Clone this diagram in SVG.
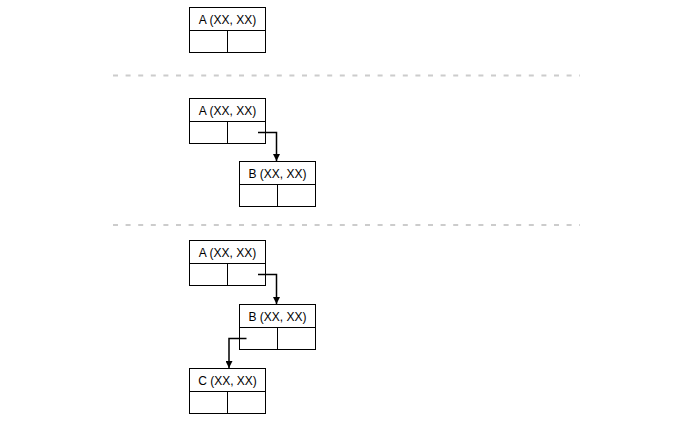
<svg xmlns="http://www.w3.org/2000/svg" width="689" height="426" viewBox="0 0 689 426">
<style>
.box{fill:#fff;stroke:#000;stroke-width:1}
.ln{stroke:#000;stroke-width:1;fill:none}
.lbl{font-family:"Liberation Sans",Arial,sans-serif;font-size:12px;fill:#000;text-anchor:middle}
.sep{stroke:#cccccc;stroke-width:2;stroke-dasharray:5 7.6;fill:none}
.con{stroke:#000;stroke-width:1.5;fill:none;marker-end:url(#arr)}
</style>
<defs>
<marker id="arr" viewBox="0 0 10 10" refX="10" refY="5" markerWidth="7" markerHeight="7" markerUnits="userSpaceOnUse" orient="auto">
<path d="M0,0 L10,5 L0,10 z" fill="#000"/>
</marker>
</defs>
<rect width="689" height="426" fill="#fff"/>
<g id="separators">
<line class="sep" x1="113" y1="75.5" x2="580" y2="75.5"/>
<line class="sep" x1="113" y1="225" x2="580" y2="225"/>
</g>
<g id="node-A1">
<rect class="box" x="189.5" y="7.5" width="76" height="45"/>
<line class="ln" x1="189.5" y1="30.5" x2="265.5" y2="30.5"/>
<line class="ln" x1="227.5" y1="30.5" x2="227.5" y2="52.5"/>
<text class="lbl" x="227.5" y="23.5">A (XX, XX)</text>
</g>
<g id="node-A2">
<rect class="box" x="189.5" y="98.5" width="76" height="45"/>
<line class="ln" x1="189.5" y1="121.5" x2="265.5" y2="121.5"/>
<line class="ln" x1="227.5" y1="121.5" x2="227.5" y2="143.5"/>
<text class="lbl" x="227.5" y="114.5">A (XX, XX)</text>
</g>
<g id="node-B2">
<rect class="box" x="239.5" y="161.5" width="76" height="45"/>
<line class="ln" x1="239.5" y1="184.5" x2="315.5" y2="184.5"/>
<line class="ln" x1="277.5" y1="184.5" x2="277.5" y2="206.5"/>
<text class="lbl" x="277.5" y="177.5">B (XX, XX)</text>
</g>
<g id="node-A3">
<rect class="box" x="189.5" y="240.5" width="76" height="45"/>
<line class="ln" x1="189.5" y1="263.5" x2="265.5" y2="263.5"/>
<line class="ln" x1="227.5" y1="263.5" x2="227.5" y2="285.5"/>
<text class="lbl" x="227.5" y="256.5">A (XX, XX)</text>
</g>
<g id="node-B3">
<rect class="box" x="239.5" y="304.5" width="76" height="45"/>
<line class="ln" x1="239.5" y1="327.5" x2="315.5" y2="327.5"/>
<line class="ln" x1="277.5" y1="327.5" x2="277.5" y2="349.5"/>
<text class="lbl" x="277.5" y="320.5">B (XX, XX)</text>
</g>
<g id="node-C3">
<rect class="box" x="189.5" y="368.5" width="76" height="45"/>
<line class="ln" x1="189.5" y1="391.5" x2="265.5" y2="391.5"/>
<line class="ln" x1="227.5" y1="391.5" x2="227.5" y2="413.5"/>
<text class="lbl" x="227.5" y="384.5">C (XX, XX)</text>
</g>
<g id="connectors">
<path class="con" d="M258,132.5 H276.5 V161"/>
<path class="con" d="M258,274.5 H276.5 V304"/>
<path class="con" d="M246.5,338.5 H229 V368"/>
</g>
</svg>
